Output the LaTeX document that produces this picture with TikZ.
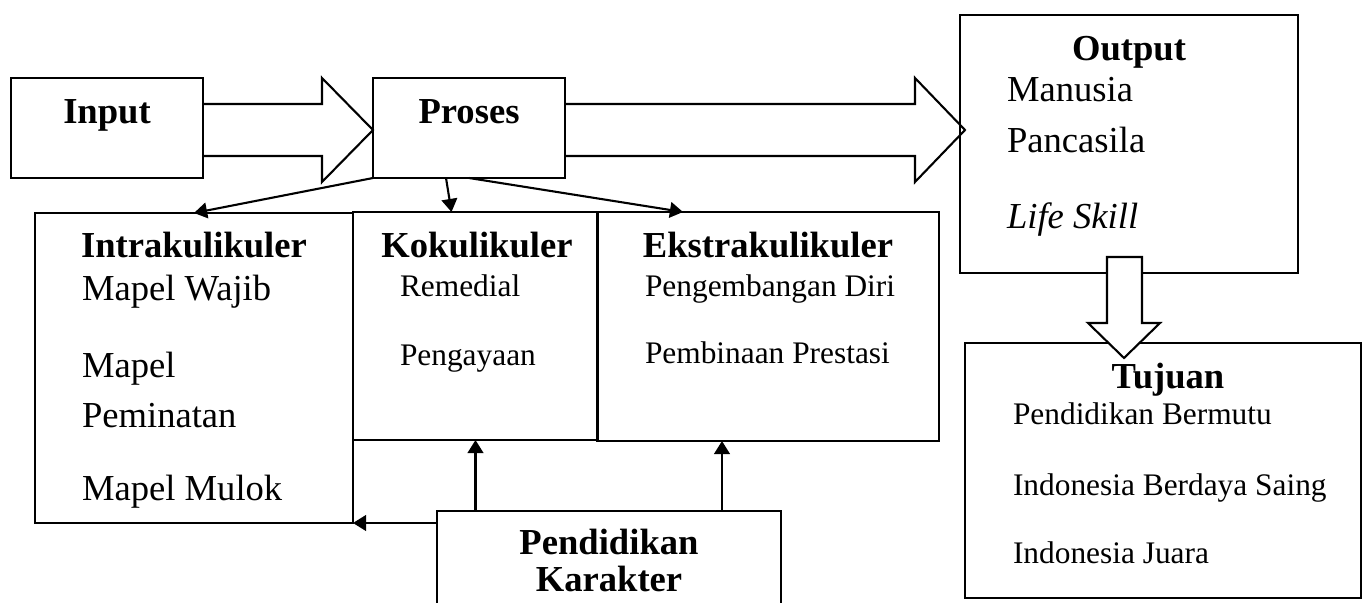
\documentclass[tikz,border=0pt]{standalone}
\usepackage{fontspec}
\setmainfont{Liberation Serif}
\usetikzlibrary{arrows.meta,calc}

\begin{document}
\begin{tikzpicture}[x=0.3825pt,y=-0.3825pt,
    box/.style 2 args={draw,line width=0.8pt,minimum width=#1*0.3825pt,minimum height=#2*0.3825pt,inner sep=0pt,outer sep=0pt},
    fat/.style={draw,line width=0.8pt,line join=miter},
    link/.style={line width=0.8pt,-{Triangle[length=5pt,width=6pt]}},
    every node/.style={inner sep=0pt,outer sep=0pt},
    head/.style={anchor=base,font=\fontsize{14}{16}\selectfont\bfseries},
    big/.style={anchor=base west,font=\fontsize{14}{16}\selectfont},
    small/.style={anchor=base west,font=\fontsize{12}{14}\selectfont}]
        \clip (0,0) rectangle (1362,603);
        \path
          (107,128)    node[box={192}{100}] (input)    {}
          (469,128)    node[box={192}{100}] (proses)   {}
          (1129,144)   node[box={338}{258}] (output)   {}
          (194,368)    node[box={318}{310}] (intra)    {}
          (475.5,326)  node[box={245}{228}] (koko)     {}
          (768,326.5)  node[box={342}{229}] (ekstra)   {}
          (1163,470.5) node[box={396}{255}] (tujuan)   {}
          (609,565)    node[box={344}{108}] (karakter) {};
        \node[head] (t-input)     at (107,123)  {Input};
        \node[head] (t-proses)    at (469,123)  {Proses};
        \node[head] (t-output)    at (1129,60)  {Output};
        \node[big]  (t-manusia)   at (1007,102) {Manusia};
        \node[big]  (t-pancasila) at (1007,152) {Pancasila};
        \node[big]  (t-life)      at (1007,228) {\textit{Life Skill}};
        \node[head] (t-intra)     at (194,257)  {Intrakulikuler};
        \node[big]  (t-wajib)     at (82,300)   {Mapel Wajib};
        \node[big]  (t-mapel)     at (82,377)   {Mapel};
        \node[big]  (t-peminatan) at (82,427)   {Peminatan};
        \node[big]  (t-mulok)     at (82,500)   {Mapel Mulok};
        \node[head] (t-koko)      at (477,257)  {Kokulikuler};
        \node[small] (t-remedial)  at (400,296) {Remedial};
        \node[small] (t-pengayaan) at (400,365) {Pengayaan};
        \node[head] (t-ekstra)    at (768,257)  {Ekstrakulikuler};
        \node[small] (t-diri)      at (645,296) {Pengembangan Diri};
        \node[small] (t-prestasi)  at (645,363) {Pembinaan Prestasi};
        \node[head] (t-tujuan)    at (1168,388) {Tujuan};
        \node[small] (t-bermutu)   at (1013,424) {Pendidikan Bermutu};
        \node[small] (t-saing)     at (1013,495) {Indonesia Berdaya Saing};
        \node[small] (t-juara)     at (1013,563) {Indonesia Juara};
        \node[head] (t-pend)      at (609,554)  {Pendidikan};
        \node[head] (t-karakter)  at (609,591)  {Karakter};
        % block arrows
        \coordinate (tip1) at ($(proses.west)+(0,2)$);
        \coordinate (tip2) at ($(output.west)+(5,-14)$);
        \coordinate (tip3) at (1124,358);
        \draw[fat] ($(input.east |- tip1)+(0,-26)$) -- ($(tip1)+(-51,-26)$) -- ($(tip1)+(-51,-52)$) -- (tip1)
          -- ($(tip1)+(-51,52)$) -- ($(tip1)+(-51,26)$) -- ($(input.east |- tip1)+(0,26)$);
        \draw[fat] ($(proses.east |- tip2)+(0,-26)$) -- ($(tip2)+(-50,-26)$) -- ($(tip2)+(-50,-52)$) -- (tip2)
          -- ($(tip2)+(-50,52)$) -- ($(tip2)+(-50,26)$) -- ($(proses.east |- tip2)+(0,26)$);
        \draw[fat,fill=white] (tip3) -- ++(36,-35) -- ++(-18,0) -- ++(0,-66) -- ++(-35,0) -- ++(0,66) -- ++(-19,0) -- cycle;
        % links
        \coordinate (ek) at ($(ekstra.south)+(-46,0)$);
        \draw[link] (proses.south west) -- (intra.north);
        \draw[link] ($(proses.south)+(-23,0)$) -- ($(koko.north)+(-24,0)$);
        \draw[link] (proses.south) -- ($(ekstra.north)+(-85,0)$);
        \draw[link] (karakter.north -| koko.south) -- (koko.south);
        \draw[link] (karakter.north -| ek) -- (ek);
        \draw[link] (karakter.west |- intra.south east) -- (intra.south east);
      \end{tikzpicture}
\end{document}
